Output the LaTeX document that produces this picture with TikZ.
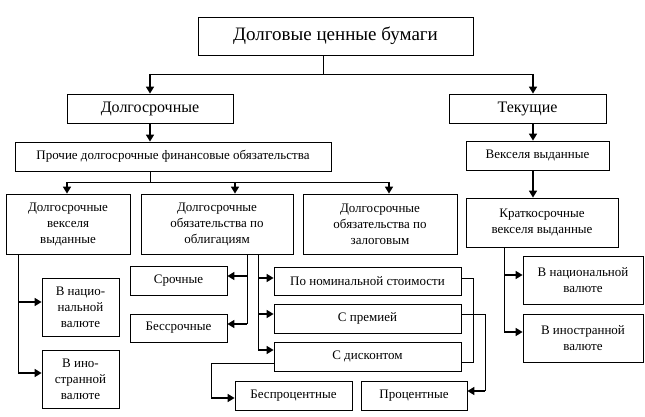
\documentclass[tikz,border=0pt]{standalone}
\usepackage{fontspec}
\setmainfont{Liberation Serif}
\usetikzlibrary{arrows.meta}

\begin{document}
\begin{tikzpicture}[x=1pt, y=-1pt,
    box/.style={draw, line width=0.8pt, align=center, inner sep=1pt, font=\fontsize{13}{16}\selectfont},
    line/.style={line width=0.8pt},
    arr/.style={-{Triangle[length=7pt,width=8pt]}, line width=1.6pt}]
    \useasboundingbox (0,0) rectangle (645,417);

    % top levels
    \node[box, minimum width=275pt, minimum height=38pt, font=\fontsize{19}{22}\selectfont] (top) at (335.5,36) {Долговые ценные бумаги};
    \node[box, minimum width=166pt, minimum height=29pt, font=\fontsize{16}{18}\selectfont] (dolg) at (150,108.5) {Долгосрочные};
    \node[box, minimum width=157pt, minimum height=29pt, font=\fontsize{16}{18}\selectfont] (tek) at (527.5,108.5) {Текущие};
    \node[box, minimum width=316pt, minimum height=29pt] (proch) at (173,156.5) {Прочие долгосрочные финансовые обязательства};
    \node[box, minimum width=143pt, minimum height=29pt] (veks) at (537.5,155.5) {Векселя выданные};

    % third level
    \node[box, minimum width=124pt, minimum height=60pt] (vyd) at (68,224) {Долгосрочные\\векселя\\выданные};
    \node[box, minimum width=152pt, minimum height=60pt] (obl) at (217,224) {Долгосрочные\\обязательства по\\облигациям};
    \node[box, minimum width=154pt, minimum height=60pt] (zal) at (380,224) {Долгосрочные\\обязательства по\\залоговым};
    \node[box, minimum width=152pt, minimum height=49pt] (kratk) at (542,222.5) {Краткосрочные\\векселя выданные};

    % bottom boxes
    \node[box, minimum width=120pt, minimum height=48pt] (rnat) at (583,280) {В национальной\\валюте};
    \node[box, minimum width=120pt, minimum height=48pt] (rin) at (583,338) {В иностранной\\валюте};
    \node[box, minimum width=77pt, minimum height=58pt] (lnat) at (80.5,307) {В нацио-\\нальной\\валюте};
    \node[box, minimum width=77pt, minimum height=58pt] (lin) at (80.5,379) {В ино-\\странной\\валюте};
    \node[box, minimum width=97pt, minimum height=29pt] (sroch) at (178.5,280.5) {Срочные};
    \node[box, minimum width=97pt, minimum height=28pt] (bessr) at (178.5,328) {Бессрочные};
    \node[box, minimum width=187pt, minimum height=28pt] (nom) at (367.5,281) {По номинальной стоимости};
    \node[box, minimum width=187pt, minimum height=29pt] (prem) at (367.5,318.5) {С премией};
    \node[box, minimum width=187pt, minimum height=29pt] (disk) at (367.5,356.5) {С дисконтом};
    \node[box, minimum width=117pt, minimum height=29pt] (bespr) at (293.5,395.5) {Беспроцентные};
    \node[box, minimum width=106pt, minimum height=29pt] (proc) at (414,395.5) {Процентные};

    % top fork
    \coordinate (t) at (323,74);
    \coordinate (tl) at (150,74);
    \coordinate (tr) at (533,74);
    \draw[line] (top.south -| t) -- (t);
    \draw[line] (tl) -- (tr);
    \draw[arr] (tl) -- (tl |- dolg.north);
    \draw[arr] (tr) -- (tr |- tek.north);
    \draw[arr] (dolg.south -| tl) -- (proch.north -| tl);
    \draw[arr] (tek.south -| tr) -- (veks.north -| tr);
    \draw[arr] (veks.south -| tr) -- (kratk.north -| tr);

    % fork under proch
    \coordinate (pl) at (67,182);
    \coordinate (pm) at (235,182);
    \coordinate (pr) at (389,182);
    \draw[line] (proch.south -| tl) -- (tl |- pl);
    \draw[line] (pl) -- (pr);
    \draw[arr] (pl) -- (pl |- vyd.north);
    \draw[arr] (pm) -- (pm |- obl.north);
    \draw[arr] (pr) -- (pr |- zal.north);

    % right column
    \coordinate (k1) at (504,275);
    \coordinate (k2) at (504,332);
    \draw[line] (kratk.south -| k1) -- (k2);
    \draw[arr] (k1) -- (k1 -| rnat.west);
    \draw[arr] (k2) -- (k2 -| rin.west);

    % left column
    \coordinate (v1) at (18,302);
    \coordinate (v2) at (18,373);
    \draw[line] (vyd.south -| v1) -- (v2);
    \draw[arr] (v1) -- (v1 -| lnat.west);
    \draw[arr] (v2) -- (v2 -| lin.west);

    % under obl, to the left
    \coordinate (s1) at (247,276);
    \coordinate (s2) at (247,324);
    \draw[line] (obl.south -| s1) -- (s2);
    \draw[arr] (s1) -- (s1 -| sroch.east);
    \draw[arr] (s2) -- (s2 -| bessr.east);

    % under obl, to the right
    \coordinate (n1) at (258,278);
    \coordinate (n2) at (258,314);
    \coordinate (n3) at (258,350);
    \draw[line] (obl.south -| n1) -- (n3);
    \draw[arr] (n1) -- (n1 -| nom.west);
    \draw[arr] (n2) -- (n2 -| prem.west);
    \draw[arr] (n3) -- (n3 -| disk.west);

    % bracket on the right
    \coordinate (b1) at (473,278);
    \coordinate (b3) at (473,362);
    \coordinate (c1) at (485,314);
    \coordinate (c2) at (485,391);
    \draw[line] (nom.east |- b1) -- (b1) -- (b3) -- (disk.east |- b3);
    \draw[line] (prem.east |- c1) -- (c1) -- (c2);
    \draw[arr] (c2) -- (c2 -| proc.east);

    % from disk to bespr
    \coordinate (d1) at (211,363);
    \coordinate (d2) at (211,398);
    \draw[line] (disk.west |- d1) -- (d1) -- (d2);
    \draw[arr] (d2) -- (d2 -| bespr.west);
\end{tikzpicture}
\end{document}
